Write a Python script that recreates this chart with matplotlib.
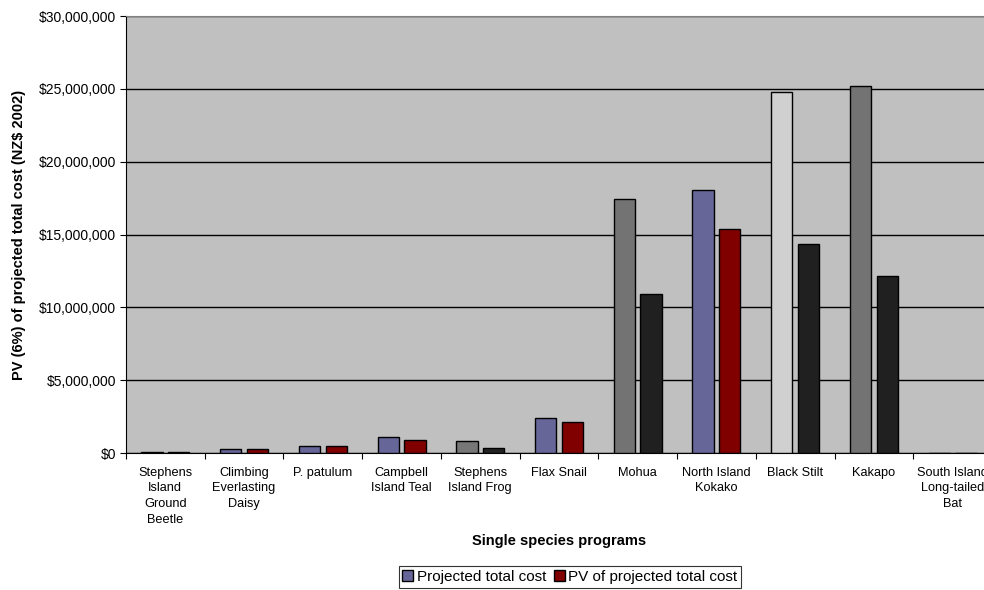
import numpy as np
import matplotlib.pyplot as plt
from matplotlib.patches import Patch
from matplotlib.ticker import FuncFormatter, MultipleLocator

plt.rcParams['font.family'] = ['Liberation Sans', 'DejaVu Sans']

species = [
    "Stephens\nIsland\nGround\nBeetle",
    "Climbing\nEverlasting\nDaisy",
    "P. patulum",
    "Campbell\nIsland Teal",
    "Stephens\nIsland Frog",
    "Flax Snail",
    "Mohua",
    "North Island\nKokako",
    "Black Stilt",
    "Kakapo",
    "South Island\nLong-tailed\nBat",
]
projected_total = [60000, 280000, 500000, 1120000, 830000, 2390000,
                   17450000, 18050000, 24800000, 25200000, 0]
pv_projected = [50000, 250000, 470000, 920000, 370000, 2110000,
                10900000, 15350000, 14350000, 12170000, 0]

# fill colours per program (first bar, second bar)
fill_first = ["#666699", "#666699", "#666699", "#666699", "#777777", "#666699",
              "#737373", "#666699", "#d0d0d0", "#737373", "#666699"]
fill_second = ["#800000", "#800000", "#800000", "#800000", "#222222", "#800000",
               "#202020", "#800000", "#202020", "#202020", "#800000"]

fig = plt.figure(figsize=(9.84, 5.9), dpi=100)
ax = fig.add_axes([126 / 984, 1 - 453 / 590, 866 / 984, 437 / 590])
ax.set_facecolor("#c0c0c0")

x = np.arange(len(species))
w = 0.27
off = 0.17
ax.bar(x - off, projected_total, w, color=fill_first, edgecolor="black",
       linewidth=1.0, zorder=3)
ax.bar(x + off, pv_projected, w, color=fill_second, edgecolor="black",
       linewidth=1.0, zorder=3)

ax.set_xlim(-0.5, len(species) - 0.5)
ax.set_ylim(0, 30000000)
ax.yaxis.set_major_locator(MultipleLocator(5000000))
ax.yaxis.set_major_formatter(FuncFormatter(lambda v, p: "${:,.0f}".format(v)))
ax.grid(axis="y", color="black", linewidth=1.0, zorder=1)

ax.set_xticks(np.arange(len(species) + 1) - 0.5, minor=False)
ax.set_xticklabels([])
ax.set_xticks(x, minor=True)
ax.set_xticklabels(species, minor=True, fontsize=9.2, linespacing=1.4)
ax.tick_params(axis="x", which="minor", length=0, pad=10)
ax.tick_params(axis="x", which="major", length=4, direction="out", color="black")
ax.tick_params(axis="y", labelsize=10, length=4, color="black", pad=3)

for side in ["top", "right"]:
    ax.spines[side].set_color("#808080")
ax.spines["left"].set_color("black")
ax.spines["bottom"].set_color("black")

ax.set_ylabel("PV (6%) of projected total cost (NZ$ 2002)", fontsize=10.5,
              fontweight="bold")
ax.yaxis.set_label_coords(-(126 - 26) / 866, 0.5)
fig.text(559 / 984, 1 - 541 / 590, "Single species programs", ha="center",
         va="center", fontsize=10.5, fontweight="bold")

handles = [Patch(facecolor="#666699", edgecolor="black", label="Projected total cost"),
           Patch(facecolor="#800000", edgecolor="black", label="PV of projected total cost")]
leg = fig.legend(handles=handles, loc="center", bbox_to_anchor=(570 / 984, 1 - 577 / 590),
                 ncol=2, fontsize=11, frameon=True, fancybox=False, handlelength=0.7,
                 handleheight=0.7, handletextpad=0.25, columnspacing=0.5,
                 borderpad=0.25, borderaxespad=0)
leg.get_frame().set_edgecolor("black")
leg.get_frame().set_linewidth(0.8)

fig.savefig("out.png", dpi=100)
